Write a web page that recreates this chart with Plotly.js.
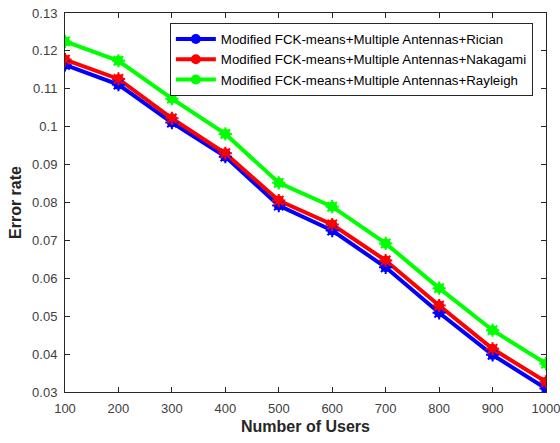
<!DOCTYPE html>
<html>
<head>
<meta charset="utf-8">
<script src="https://cdn.plot.ly/plotly-3.0.1.min.js"></script>
<style>html,body{margin:0;padding:0;background:#fff;}#chart{width:560px;height:443px;}</style>
</head>
<body>
<div id="chart"></div>
<script>
const users = [100, 200, 300, 400, 500, 600, 700, 800, 900, 1000];
const rician = [0.1163, 0.1111, 0.1011, 0.0921, 0.0792, 0.0726, 0.0629, 0.0509, 0.0398, 0.0309];
const nakagami = [0.1177, 0.1126, 0.1022, 0.0930, 0.0805, 0.0742, 0.0647, 0.0528, 0.0414, 0.0327];
const rayleigh = [0.1225, 0.1174, 0.1074, 0.0981, 0.0852, 0.0789, 0.0692, 0.0574, 0.0463, 0.0375];
const names = [
  'Modified FCK-means+Multiple Antennas+Rician',
  'Modified FCK-means+Multiple Antennas+Nakagami',
  'Modified FCK-means+Multiple Antennas+Rayleigh'
];
const colors = ['#0000ff', '#ff0000', '#00ff00'];
const series = [rician, nakagami, rayleigh];

const traces = [];
series.forEach((ys, i) => {
  traces.push({
    x: users, y: ys, name: names[i], type: 'scatter', mode: 'lines+markers',
    line: {color: colors[i], width: 4},
    marker: {symbol: 'circle', size: 10, color: colors[i]}
  });
});
series.forEach((ys, i) => {
  traces.push({
    x: users, y: ys, type: 'scatter', mode: 'markers', showlegend: false, hoverinfo: 'skip',
    marker: {symbol: 'asterisk-open', size: 11, color: colors[i], line: {color: colors[i], width: 2}}
  });
});

const axisCommon = {
  showline: true, mirror: 'ticks', linecolor: '#262626', linewidth: 1,
  ticks: 'inside', ticklen: 5, tickcolor: '#262626', showgrid: false, zeroline: false,
  ticklabeloverflow: 'allow',
  tickfont: {family: 'Liberation Sans, Arial, sans-serif', size: 13, color: '#404040'}
};

const layout = {
  width: 560, height: 443,
  margin: {l: 65, r: 14, t: 13, b: 51},
  paper_bgcolor: '#ffffff', plot_bgcolor: '#ffffff',
  xaxis: Object.assign({}, axisCommon, {
    range: [100, 1000], dtick: 100, tick0: 100, ticklabelstandoff: 4,
    title: {text: '<b>Number of Users</b>', standoff: 6,
      font: {family: 'Liberation Sans, Arial, sans-serif', size: 16, color: '#262626'}}
  }),
  yaxis: Object.assign({}, axisCommon, {
    range: [0.03, 0.13], dtick: 0.01, tick0: 0.03, ticklabelstandoff: 4,
    title: {text: '<b>Error rate</b>', standoff: 6,
      font: {family: 'Liberation Sans, Arial, sans-serif', size: 16, color: '#262626'}}
  }),
  legend: {
    x: 0.218, y: 0.974, xanchor: 'left', yanchor: 'top',
    bgcolor: '#ffffff', bordercolor: '#262626', borderwidth: 1,
    font: {family: 'Liberation Sans, Arial, sans-serif', size: 13.3, color: '#000000'},
    tracegroupgap: 0, itemwidth: 40
  },
  showlegend: true
};

Plotly.newPlot('chart', traces, layout, {displayModeBar: false, staticPlot: true});
</script>
</body>
</html>
